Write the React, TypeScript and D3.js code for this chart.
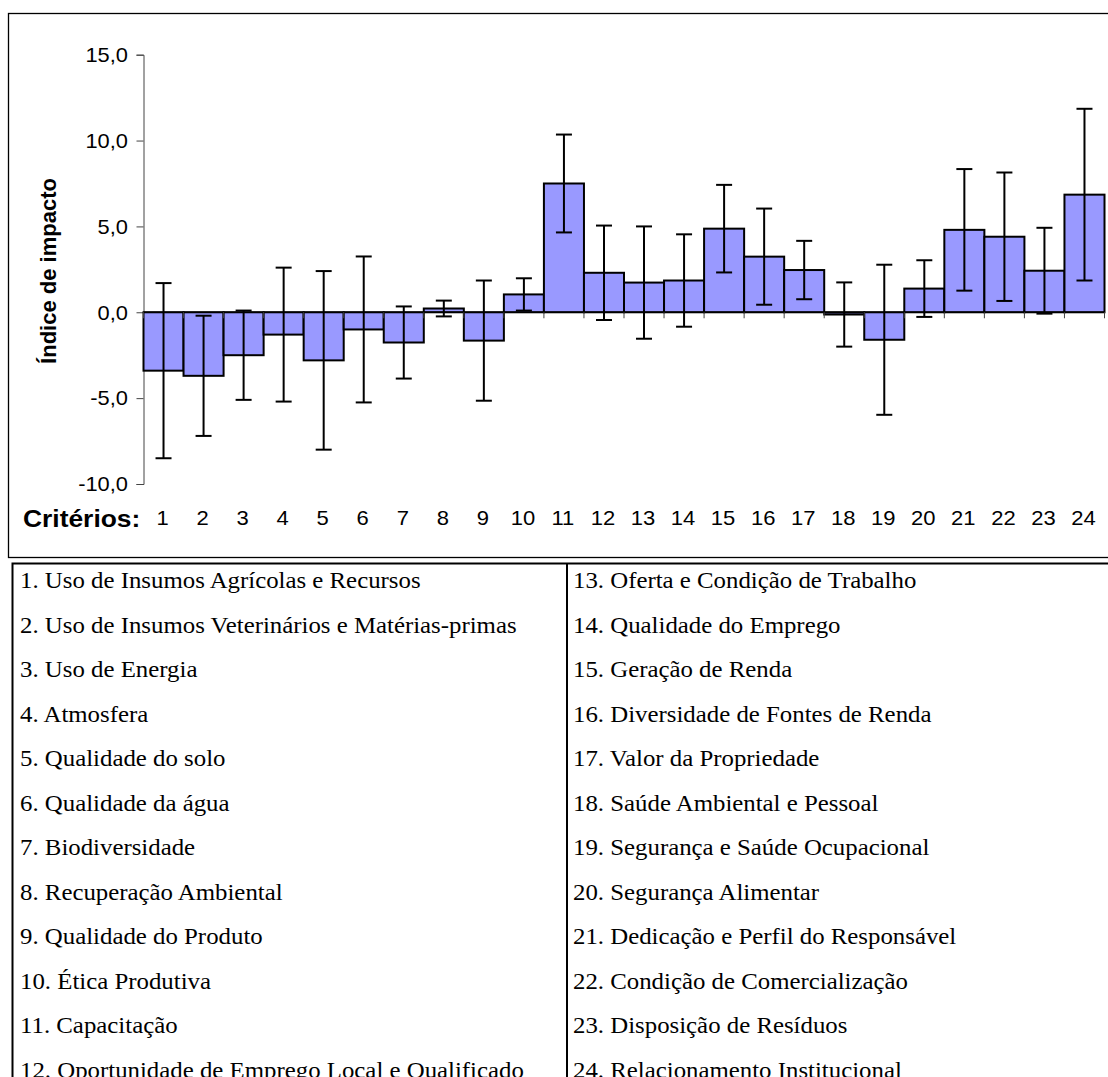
import React, { useEffect, useRef } from 'react'
import * as d3 from 'd3'

// criteria numbers along the x axis
const criteria = ['1','2','3','4','5','6','7','8','9','10','11','12','13','14','15','16','17','18','19','20','21','22','23','24']
// mean impact index per criterion
const impactMeans = [-3.4, -3.7, -2.5, -1.3, -2.8, -1.0, -1.76, 0.22, -1.65, 1.04, 7.5, 2.3, 1.73, 1.85, 4.87, 3.24, 2.46, -0.13, -1.6, 1.38, 4.8, 4.4, 2.42, 6.85]
// error bar half-length
const impactErrors = [5.1, 3.5, 2.6, 3.9, 5.2, 4.25, 2.1, 0.46, 3.5, 0.94, 2.85, 2.75, 3.27, 2.69, 2.55, 2.8, 1.7, 1.87, 4.37, 1.65, 3.54, 3.74, 2.5, 5.0]
const yTicks = [-10, -5, 0, 5, 10, 15]

const leftNames = [
  '1. Uso de Insumos Agrícolas e Recursos',
  '2. Uso de Insumos Veterinários e Matérias-primas',
  '3. Uso de Energia',
  '4. Atmosfera',
  '5. Qualidade do solo',
  '6. Qualidade da água',
  '7. Biodiversidade',
  '8. Recuperação Ambiental',
  '9. Qualidade do Produto',
  '10. Ética Produtiva',
  '11. Capacitação',
  '12. Oportunidade de Emprego Local e Qualificado',
]
const rightNames = [
  '13. Oferta e Condição de Trabalho',
  '14. Qualidade do Emprego',
  '15. Geração de Renda',
  '16. Diversidade de Fontes de Renda',
  '17. Valor da Propriedade',
  '18. Saúde Ambiental e Pessoal',
  '19. Segurança e Saúde Ocupacional',
  '20. Segurança Alimentar',
  '21. Dedicação e Perfil do Responsável',
  '22. Condição de Comercialização',
  '23. Disposição de Resíduos',
  '24. Relacionamento Institucional',
]

const fmt = (v: number) => v.toFixed(1).replace('.', ',')

export default function App() {
  const svgRef = useRef<SVGSVGElement>(null)

  useEffect(() => {
    document.body.style.margin = '0'
    const svg = d3.select(svgRef.current)
    svg.selectAll('*').remove()

    const sans = 'Arial, "Liberation Sans", sans-serif'
    const serif = '"Times New Roman", "Liberation Serif", serif'

    const x = d3.scaleBand().domain(criteria).range([143.5, 1104.5]).padding(0)
    const y = d3.scaleLinear().domain([-10, 15]).range([484, 54.7])

    const data = criteria.map((c, i) => ({ name: c, value: impactMeans[i], err: impactErrors[i] }))

    // outer frame of the chart
    svg.append('rect')
      .attr('x', 8.5).attr('y', 13.5).attr('width', 1120).attr('height', 544)
      .attr('fill', 'none').attr('stroke', '#000').attr('stroke-width', 1.3)

    // y axis
    const yAxis = d3.axisLeft(y).tickValues(yTicks).tickSize(7).tickFormat(d => fmt(d as number))
    const gy = svg.append('g').attr('transform', `translate(${x.range()[0]},0)`).call(yAxis)
    gy.select('.domain').attr('stroke', '#444')
    gy.selectAll('.tick line').attr('stroke', '#444')
    gy.selectAll('.tick text')
      .attr('font-family', sans).attr('font-size', 21).attr('fill', '#000')
      .attr('x', -15).attr('transform', 'scale(1.04,1)')

    // bars
    svg.selectAll('.bar')
      .data(data)
      .enter().append('rect')
      .attr('class', 'bar')
      .attr('x', d => x(d.name)!)
      .attr('width', x.bandwidth())
      .attr('y', d => y(Math.max(0, d.value)))
      .attr('height', d => Math.abs(y(d.value) - y(0)))
      .attr('fill', '#9999ff')
      .attr('stroke', '#000')
      .attr('stroke-width', 2)

    // zero axis with boundary ticks
    const gx = svg.append('g').attr('transform', `translate(0,${y(0)})`)
    gx.append('line')
      .attr('x1', x.range()[0]).attr('x2', x.range()[1])
      .attr('stroke', '#000').attr('stroke-width', 1.5)
    gx.selectAll('.bound')
      .data(d3.range(criteria.length + 1))
      .enter().append('line')
      .attr('x1', i => x.range()[0] + i * x.step())
      .attr('x2', i => x.range()[0] + i * x.step())
      .attr('y1', 0).attr('y2', 6)
      .attr('stroke', '#444').attr('stroke-width', 1)

    // error bars
    const eb = svg.selectAll('.err').data(data).enter().append('g').attr('class', 'err')
      .attr('stroke', '#000').attr('stroke-width', 2)
    const cx = (d: { name: string }) => x(d.name)! + x.bandwidth() / 2
    eb.append('line')
      .attr('x1', cx).attr('x2', cx)
      .attr('y1', d => y(d.value + d.err)).attr('y2', d => y(d.value - d.err))
    eb.append('line')
      .attr('x1', d => cx(d) - 8).attr('x2', d => cx(d) + 8)
      .attr('y1', d => y(d.value + d.err)).attr('y2', d => y(d.value + d.err))
    eb.append('line')
      .attr('x1', d => cx(d) - 8).attr('x2', d => cx(d) + 8)
      .attr('y1', d => y(d.value - d.err)).attr('y2', d => y(d.value - d.err))

    // category labels
    svg.selectAll('.cat')
      .data(criteria)
      .enter().append('text')
      .attr('transform', d => `translate(${x(d)! + x.bandwidth() / 2 - 1},525) scale(1.1,1)`)
      .attr('text-anchor', 'middle')
      .attr('font-family', sans).attr('font-size', 20)
      .text(d => d)

    svg.append('text')
      .attr('transform', 'translate(23,527) scale(1.1,1)')
      .attr('font-family', sans).attr('font-size', 24).attr('font-weight', 'bold')
      .text('Critérios:')

    svg.append('text')
      .attr('transform', 'translate(56,271) rotate(-90)')
      .attr('text-anchor', 'middle')
      .attr('font-family', sans).attr('font-size', 22).attr('font-weight', 'bold')
      .text('Índice de impacto')

    // legend table
    svg.append('rect')
      .attr('x', 12.5).attr('y', 563.5).attr('width', 1120).attr('height', 600)
      .attr('fill', 'none').attr('stroke', '#000').attr('stroke-width', 2)
    svg.append('line')
      .attr('x1', 567).attr('x2', 567).attr('y1', 563).attr('y2', 1077)
      .attr('stroke', '#000').attr('stroke-width', 2)

    const rowY = (i: number) => 588 + i * 44.5
    svg.selectAll('.lname').data(leftNames).enter().append('text')
      .attr('transform', (_, i) => `translate(20,${rowY(i)}) scale(1.08,1)`)
      .attr('font-family', serif).attr('font-size', 23)
      .text(d => d)
    svg.selectAll('.rname').data(rightNames).enter().append('text')
      .attr('transform', (_, i) => `translate(573,${rowY(i)}) scale(1.08,1)`)
      .attr('font-family', serif).attr('font-size', 23)
      .text(d => d)
  }, [])

  return (
    <svg ref={svgRef} width={1108} height={1077} style={{ display: 'block', background: '#fff' }} />
  )
}
